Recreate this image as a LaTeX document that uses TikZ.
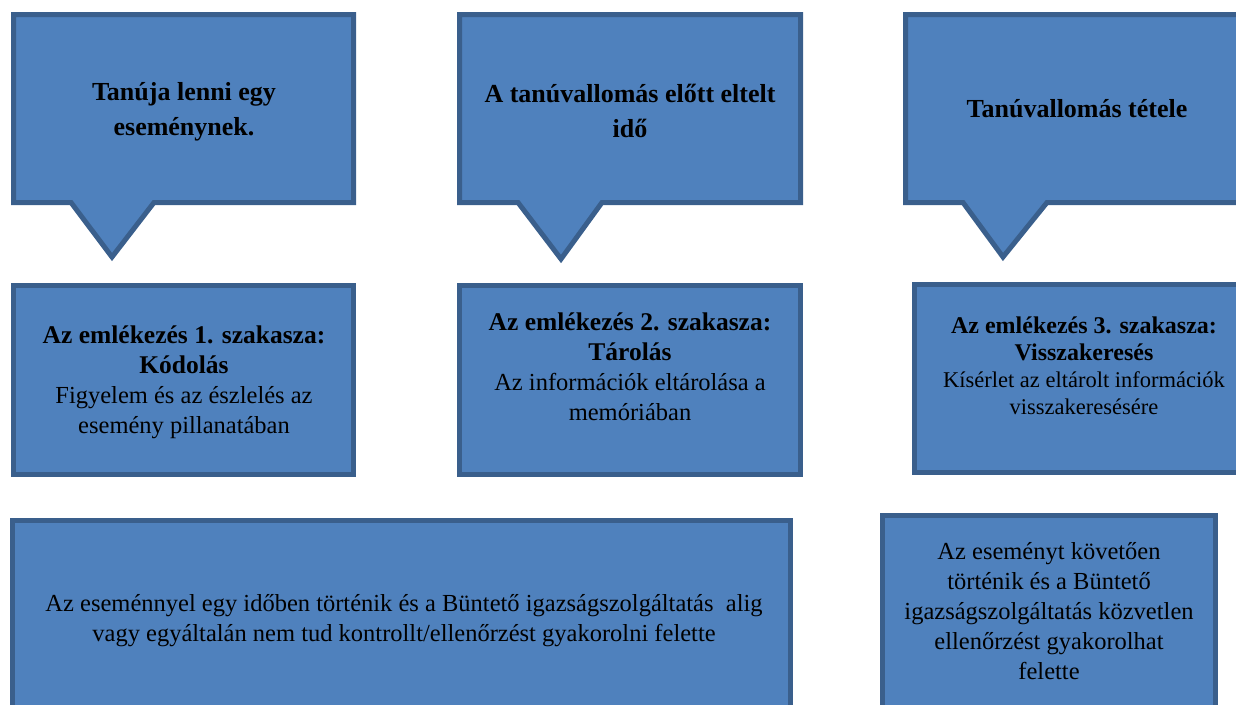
\documentclass[tikz,border=0pt]{standalone}
\usepackage{fontspec}
\setmainfont{Liberation Serif}
\definecolor{boxfill}{HTML}{4F81BD}
\definecolor{boxline}{HTML}{3A5F8C}
\newcommand{\bigbold}[1]{{\fontsize{25.5}{30}\selectfont\bfseries #1}}
\begin{document}
\begin{tikzpicture}[x=1pt,y=-1pt,
  shapebox/.style={fill=boxfill,draw=boxline,line width=5pt,line join=miter},
  txt/.style={align=center,text=black,inner sep=0pt},
  ttl/.style={txt,font=\fontsize{26}{35}\selectfont\bfseries},
  body/.style={txt,font=\fontsize{24.5}{30}\selectfont}]
\useasboundingbox (0,0) rectangle (1236,704);
\clip (0,0) rectangle (1236,704);
% callouts
\draw[shapebox] (13.5,14.5) -- (353.5,14.5) -- (353.5,202.5) -- (154,202.5) -- (112,257) -- (71,202.5) -- (13.5,202.5) -- cycle;
\draw[shapebox] (459.5,14.5) -- (800.5,14.5) -- (800.5,202.5) -- (602,202.5) -- (561,259) -- (518,202.5) -- (459.5,202.5) -- cycle;
\draw[shapebox] (905.5,14.5) -- (1250,14.5) -- (1250,202.5) -- (1047,202.5) -- (1003,257) -- (963,202.5) -- (905.5,202.5) -- cycle;
% boxes
\draw[shapebox] (13.5,285.5) rectangle (353.5,474.5);
\draw[shapebox] (459.5,285.5) rectangle (800.5,474.5);
\draw[shapebox] (914.5,284.5) rectangle (1250,472.5);
\draw[shapebox] (12.5,520.5) rectangle (790.5,720);
\draw[shapebox] (882.5,515.5) rectangle (1215.5,720);
% texts
\node[ttl] (t1) at (184,112) {Tanúja lenni egy\\eseménynek.};
\node[ttl] (t2) at (630,111) {A tanúvallomás előtt eltelt\\idő};
\node[ttl] (t3) at (1077,109) {Tanúvallomás tétele};
\node[body] (b1) at (184,382) {\bigbold{Az emlékezés 1. szakasza:}\\\bigbold{Kódolás}\\Figyelem és az észlelés az\\esemény pillanatában};
\node[body] (b2) at (630,367) {\bigbold{Az emlékezés 2. szakasza:}\\\bigbold{Tárolás}\\Az információk eltárolása a\\memóriában};
\node[txt,font=\fontsize{22.5}{27}\selectfont] (b3) at (1084,366) {{\fontsize{24}{27}\selectfont\bfseries Az emlékezés 3. szakasza:}\\{\fontsize{24}{27}\selectfont\bfseries Visszakeresés}\\Kísérlet az eltárolt információk\\visszakeresésére};
\node[body] (b4) at (404,621) {Az eseménnyel egy időben történik és a Büntető igazságszolgáltatás\ \ alig\\vagy egyáltalán nem tud kontrollt/ellenőrzést gyakorolni felette};
\node[body] (b5) at (1049,611) {Az eseményt követően\\történik és a Büntető\\igazságszolgáltatás közvetlen\\ellenőrzést gyakorolhat\\felette};
\end{tikzpicture}
\end{document}
